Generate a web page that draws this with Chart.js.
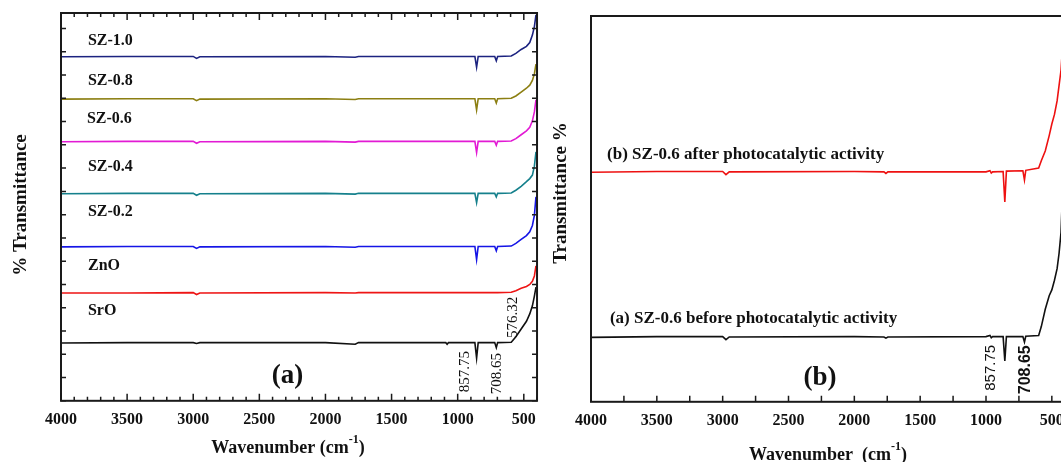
<!DOCTYPE html>
<html>
<head>
<meta charset="utf-8">
<script src="https://cdn.jsdelivr.net/npm/chart.js@4.4.1/dist/chart.umd.min.js"></script>
<style>
  html, body { margin: 0; padding: 0; background: #fff; overflow: hidden; }
  #wrapA { position: absolute; left: 0; top: 0; width: 545px; height: 462px; }
  #wrapB { position: absolute; left: 545px; top: 0; width: 516px; height: 462px; overflow: hidden; }
  #innerB { width: 530px; height: 462px; }
</style>
</head>
<body>
<div id="wrapB"><div id="innerB"><canvas id="chartB"></canvas></div></div>
<div id="wrapA"><canvas id="chartA"></canvas></div>
<script>
// tick labels shared by both panels
const xTickValues = [4000, 3500, 3000, 2500, 2000, 1500, 1000, 500];

// ---- panel (a): FTIR spectra, stacked (arbitrary transmittance units) ----
const wnA = [4000, 3500, 3000, 2975, 2950, 2000, 1775, 1750, 1090, 1080, 1070,
             870, 857, 845, 720, 708, 698, 595, 560, 520, 480, 455, 435, 420, 408];
const sz10 = [88.7, 88.8, 88.8, 88.3, 88.7, 88.8, 88.6, 88.8, 88.8, 88.8, 88.8,
              88.8, 86.0, 88.8, 88.8, 87.7, 88.8, 88.9, 89.6, 90.6, 91.4, 92.4, 94.3, 96.5, 99.5];
const sz08 = [77.8, 77.9, 77.9, 77.4, 77.8, 77.9, 77.7, 77.9, 77.9, 77.9, 77.9,
              77.9, 75.0, 77.9, 77.9, 76.8, 77.9, 78.0, 78.6, 79.6, 80.6, 81.4, 82.6, 84.3, 86.8];
const sz06 = [66.8, 66.9, 66.9, 66.4, 66.8, 66.9, 66.7, 66.9, 66.9, 66.9, 66.9,
              66.9, 64.0, 66.9, 66.9, 65.9, 66.9, 67.0, 67.6, 68.6, 69.6, 70.5, 72.2, 74.5, 77.6];
const sz04 = [53.4, 53.5, 53.5, 53.0, 53.4, 53.5, 53.3, 53.5, 53.5, 53.5, 53.5,
              53.5, 51.1, 53.5, 53.5, 52.6, 53.5, 53.6, 54.3, 55.3, 56.5, 57.3, 58.2, 60.5, 64.2];
const sz02 = [39.7, 39.8, 39.8, 39.3, 39.7, 39.8, 39.6, 39.8, 39.8, 39.8, 39.8,
              39.8, 36.4, 39.8, 39.8, 38.7, 39.8, 39.9, 40.6, 41.6, 42.6, 43.6, 45.2, 47.8, 52.6];
const znO  = [27.8, 27.8, 27.9, 27.4, 27.8, 27.9, 27.8, 27.9, 27.9, 27.9, 27.9,
              27.9, 27.9, 27.9, 27.9, 27.9, 27.9, 28.0, 28.4, 29.0, 29.5, 30.0, 30.8, 32.2, 34.8];
const srO  = [14.9, 15.0, 15.0, 14.8, 15.0, 15.0, 14.6, 15.0, 15.0, 14.6, 15.0,
              15.0, 11.0, 15.0, 15.0, 13.7, 15.0, 15.1, 16.5, 18.5, 20.5, 22.4, 24.5, 27.0, 29.3];

// ---- panel (b): SZ-0.6 before / after photocatalytic activity ----
const wnB = [4000, 3500, 3000, 2975, 2950, 2000, 1775, 1760, 1745, 1000, 970, 960, 950,
             870, 857, 845, 720, 708, 698, 600, 580, 550, 520, 500, 480, 460, 445, 430, 415, 405];
const afterPhoto  = [59.5, 59.7, 59.7, 58.9, 59.6, 59.7, 59.6, 59.2, 59.6, 59.6, 59.9, 59.3, 59.6,
                     59.7, 51.8, 59.8, 59.9, 57.5, 60.0, 60.6, 62.5, 65.0, 69.0, 72.0, 74.5, 78.0, 82.0, 86.0, 94.0, 100];
const beforePhoto = [16.7, 16.9, 16.9, 16.1, 16.8, 16.9, 16.8, 16.5, 16.8, 16.9, 17.2, 16.6, 16.9,
                     16.9, 10.6, 16.9, 16.9, 15.5, 17.0, 17.2, 19.5, 24.0, 27.5, 29.0, 31.5, 34.5, 38.5, 44.0, 58.0, 80.0];

const SERIF = '"Liberation Serif", "Times New Roman", serif';
const SANS = '"Liberation Sans", Arial, sans-serif';

function pts(xs, ys) { return xs.map((x, i) => ({ x: x, y: ys[i] })); }
function ds(label, xs, ys, color) {
  return { label: label, data: pts(xs, ys), borderColor: color, borderWidth: 1.6,
           pointRadius: 0, tension: 0, fill: false };
}

// frame with inward ticks
const frameTicks = {
  id: 'frameTicks',
  afterDatasetsDraw(chart, args, o) {
    const { ctx, chartArea: a, scales: { x, y } } = chart;
    ctx.save();
    ctx.strokeStyle = '#1a1a1a';
    ctx.lineWidth = 2;
    ctx.strokeRect(a.left, a.top, a.right - a.left, a.bottom - a.top);
    ctx.lineWidth = 1.5;
    ctx.beginPath();
    for (let v = o.xMax; v >= o.xMin; v -= o.xMinor) {
      const px = x.getPixelForValue(v);
      const len = v % o.xMajor === 0 ? o.majorLen : o.minorLen;
      if (o.bottom) { ctx.moveTo(px, a.bottom); ctx.lineTo(px, a.bottom - len); }
      if (o.top) { ctx.moveTo(px, a.top); ctx.lineTo(px, a.top + len); }
    }
    if (o.yStep) {
      for (let v = y.min; v <= y.max; v += o.yStep) {
        const py = y.getPixelForValue(v);
        ctx.moveTo(a.left, py); ctx.lineTo(a.left + o.yLen, py);
        ctx.moveTo(a.right, py); ctx.lineTo(a.right - o.yLen, py);
      }
    }
    ctx.stroke();
    ctx.restore();
  }
};

// annotations placed in data coordinates, titles in pixels
const textLayer = {
  id: 'textLayer',
  afterDraw(chart, args, o) {
    const { ctx, scales: { x, y } } = chart;
    ctx.save();
    ctx.fillStyle = '#111';
    (o.labels || []).forEach(l => {
      ctx.save();
      ctx.font = l.font;
      ctx.translate(x.getPixelForValue(l.x), y.getPixelForValue(l.y));
      if (l.rot) ctx.rotate(l.rot);
      ctx.textAlign = l.align || 'left';
      ctx.textBaseline = 'middle';
      ctx.fillText(l.text, 0, 0);
      ctx.restore();
    });
    if (o.yTitle) {
      ctx.save();
      ctx.font = 'bold 19px ' + SERIF;
      ctx.translate(o.yTitle.x, o.yTitle.y);
      ctx.rotate(-Math.PI / 2);
      ctx.textAlign = 'center';
      ctx.textBaseline = 'middle';
      ctx.fillText(o.yTitle.text, 0, 0);
      ctx.restore();
    }
    if (o.xTitle) {
      const t = o.xTitle;
      ctx.textBaseline = 'middle';
      ctx.textAlign = 'left';
      ctx.font = 'bold 18px ' + SERIF;
      const w1 = ctx.measureText(t.main).width;
      const w3 = ctx.measureText(')').width;
      ctx.font = 'bold 12px ' + SERIF;
      const w2 = ctx.measureText('-1').width;
      let cx = t.x - (w1 + w2 + w3) / 2;
      ctx.font = 'bold 18px ' + SERIF;
      ctx.fillText(t.main, cx, t.y);
      ctx.font = 'bold 12px ' + SERIF;
      ctx.fillText('-1', cx + w1, t.y - 8);
      ctx.font = 'bold 18px ' + SERIF;
      ctx.fillText(')', cx + w1 + w2, t.y);
    }
    ctx.restore();
  }
};

function xAxis() {
  return {
    type: 'linear', min: 400, max: 4000, reverse: true,
    afterBuildTicks: s => { s.ticks = xTickValues.map(v => ({ value: v })); },
    grid: { display: false, drawTicks: false },
    border: { display: false },
    ticks: { maxRotation: 0, autoSkip: false, padding: 9, callback: v => String(v),
             color: '#111', font: { family: SERIF, size: 16, weight: 'bold' } }
  };
}

new Chart(document.getElementById('chartA'), {
  type: 'line',
  data: {
    datasets: [
      ds('SZ-1.0', wnA, sz10, '#1c2380'),
      ds('SZ-0.8', wnA, sz08, '#8c7f12'),
      ds('SZ-0.6', wnA, sz06, '#e21ad4'),
      ds('SZ-0.4', wnA, sz04, '#15808c'),
      ds('SZ-0.2', wnA, sz02, '#1515e6'),
      ds('ZnO', wnA, znO, '#ee1515'),
      ds('SrO', wnA, srO, '#111111')
    ]
  },
  options: {
    responsive: true, maintainAspectRatio: false, animation: false,
    layout: { padding: { left: 61, top: 13, right: 7, bottom: 24 } },
    scales: {
      x: xAxis(),
      y: { type: 'linear', min: 0, max: 100, display: false }
    },
    plugins: {
      legend: { display: false }, tooltip: { enabled: false },
      frameTicks: { xMin: 400, xMax: 4000, xMinor: 100, xMajor: 500, majorLen: 7, minorLen: 4,
                    top: true, bottom: true, yStep: 6, yLen: 5 },
      textLayer: {
        labels: [
          { text: 'SZ-1.0', x: 3796, y: 92.8, font: 'bold 16px ' + SERIF },
          { text: 'SZ-0.8', x: 3796, y: 82.6, font: 'bold 16px ' + SERIF },
          { text: 'SZ-0.6', x: 3804, y: 72.6, font: 'bold 16px ' + SERIF },
          { text: 'SZ-0.4', x: 3796, y: 60.3, font: 'bold 16px ' + SERIF },
          { text: 'SZ-0.2', x: 3796, y: 48.7, font: 'bold 16px ' + SERIF },
          { text: 'ZnO', x: 3796, y: 34.9, font: 'bold 16px ' + SERIF },
          { text: 'SrO', x: 3796, y: 23.3, font: 'bold 16px ' + SERIF },
          { text: '(a)', x: 2287, y: 6.4, align: 'center', font: 'bold 27px ' + SERIF },
          { text: '857.75', x: 943, y: 7.5, align: 'center', rot: -Math.PI / 2, font: '15px ' + SERIF },
          { text: '708.65', x: 702, y: 7.0, align: 'center', rot: -Math.PI / 2, font: '15px ' + SERIF },
          { text: '576.32', x: 580, y: 21.5, align: 'center', rot: -Math.PI / 2, font: '15px ' + SERIF }
        ],
        yTitle: { text: '% Transmittance', x: 21, y: 205 },
        xTitle: { main: 'Wavenumber (cm', x: 288, y: 448 }
      }
    }
  },
  plugins: [frameTicks, textLayer]
});

new Chart(document.getElementById('chartB'), {
  type: 'line',
  data: {
    datasets: [
      ds('SZ-0.6 after photocatalytic activity', wnB, afterPhoto, '#ee1111'),
      ds('SZ-0.6 before photocatalytic activity', wnB, beforePhoto, '#111111')
    ]
  },
  options: {
    responsive: true, maintainAspectRatio: false, animation: false,
    layout: { padding: { left: 46, top: 16, right: 10, bottom: 23 } },
    scales: {
      x: xAxis(),
      y: { type: 'linear', min: 0, max: 100, display: false }
    },
    plugins: {
      legend: { display: false }, tooltip: { enabled: false },
      frameTicks: { xMin: 400, xMax: 4000, xMinor: 250, xMajor: 500, majorLen: 6, minorLen: 6,
                    top: false, bottom: true },
      textLayer: {
        labels: [
          { text: '(b) SZ-0.6 after photocatalytic activity', x: 3878, y: 64.0, font: 'bold 17px ' + SERIF },
          { text: '(a) SZ-0.6 before photocatalytic activity', x: 3856, y: 21.6, font: 'bold 17px ' + SERIF },
          { text: '(b)', x: 2261, y: 6.2, align: 'center', font: 'bold 27px ' + SERIF },
          { text: '857.75', x: 962, y: 8.8, align: 'center', rot: -Math.PI / 2, font: '15px ' + SANS },
          { text: '708.65', x: 696, y: 8.3, align: 'center', rot: -Math.PI / 2, font: 'bold 16px ' + SANS }
        ],
        yTitle: { text: 'Transmittance %', x: 561 - 545, y: 193 },
        xTitle: { main: 'Wavenumber  (cm', x: 828 - 545, y: 455 }
      }
    }
  },
  plugins: [frameTicks, textLayer]
});
</script>
</body>
</html>
